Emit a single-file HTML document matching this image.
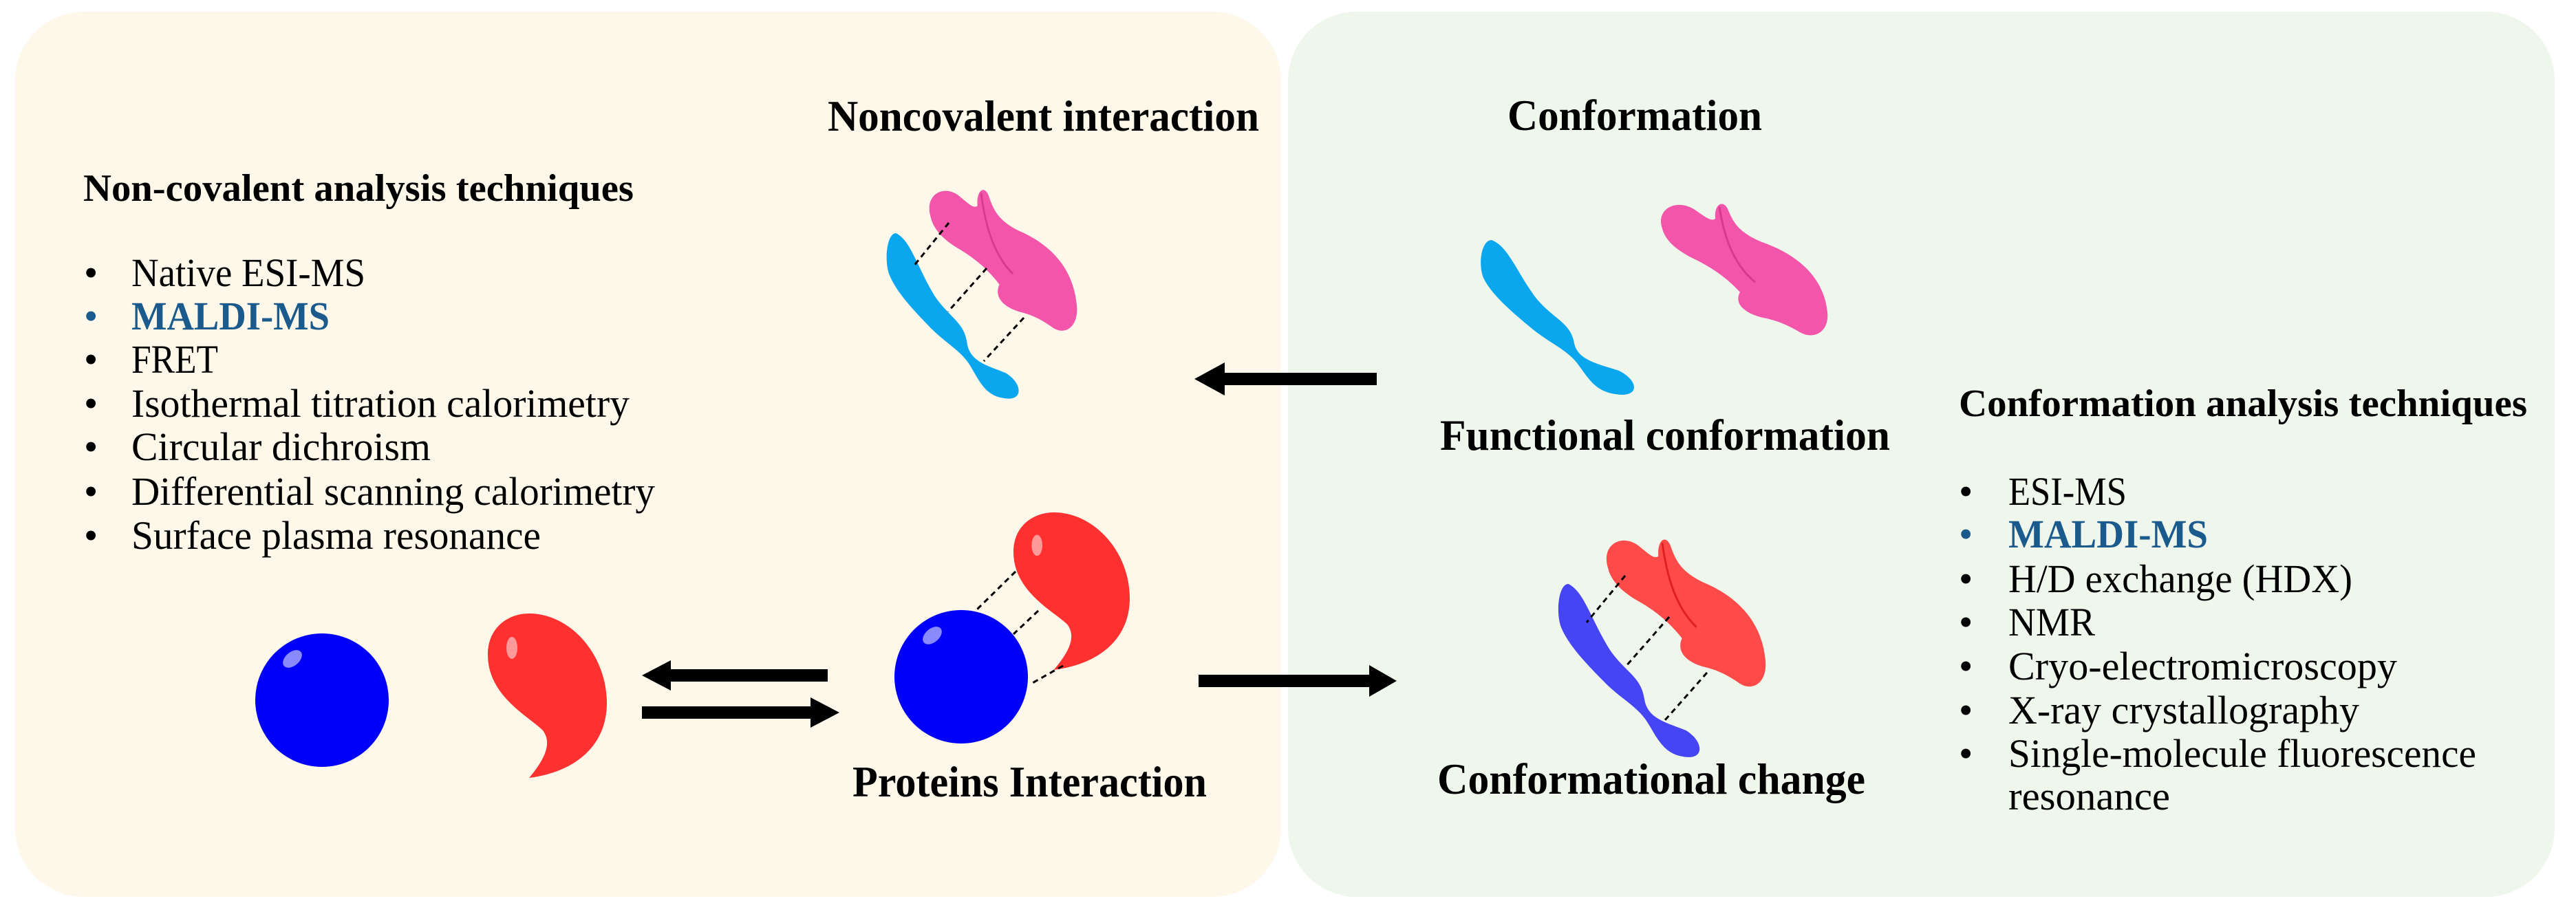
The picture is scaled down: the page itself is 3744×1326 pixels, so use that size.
<!DOCTYPE html>
<html><head><meta charset="utf-8"><style>html,body{margin:0;padding:0;background:#fff}svg{display:block}</style></head>
<body>
<svg width="3744" height="1326" viewBox="0 0 3744 1326" xmlns="http://www.w3.org/2000/svg" font-family="'Liberation Serif', serif">
<defs>
<path id="cy" d="M20,0 C45,10 55,45 85,85 C110,115 135,120 140,150 C145,175 175,180 205,190 C235,205 235,230 200,224 C170,220 160,200 145,180 C130,160 105,150 80,130 C50,105 20,80 8,55 C0,35 5,0 20,0 Z"/>
<path id="pk" d="M5,45 C-5,15 25,0 50,15 C65,25 75,35 82,30 C80,10 92,0 100,15 C108,35 115,50 150,65 C205,85 240,120 245,170 C248,200 225,212 205,200 C185,188 170,182 150,178 C120,170 110,155 118,140 C100,120 80,105 55,92 C30,80 10,65 5,45 Z"/>
<path id="pkl" d="M88,12 C95,60 110,100 140,125" fill="none" stroke-width="3"/>
<path id="dr" d="M60,0 C120,0 173,60 173,130 C173,190 130,230 60,239 C80,215 95,190 80,170 C60,150 0,120 0,60 C0,20 30,0 60,0 Z"/>
</defs>
<rect x="22" y="17" width="1840" height="1287" rx="100" fill="#fdf8e9"/>
<rect x="1872" y="17" width="1841" height="1287" rx="100" fill="#eff6ec"/>

<g font-weight="bold" fill="#000">
<text x="1203" y="190" font-size="64" textLength="627" lengthAdjust="spacingAndGlyphs">Noncovalent interaction</text>
<text x="121" y="292" font-size="56" textLength="800" lengthAdjust="spacingAndGlyphs">Non-covalent analysis techniques</text>
<text x="2191" y="189" font-size="64" textLength="370" lengthAdjust="spacingAndGlyphs">Conformation</text>
<text x="2093" y="654" font-size="64" textLength="654" lengthAdjust="spacingAndGlyphs">Functional conformation</text>
<text x="2847" y="605" font-size="56" textLength="826" lengthAdjust="spacingAndGlyphs">Conformation analysis techniques</text>
<text x="1239" y="1158" font-size="64" textLength="515" lengthAdjust="spacingAndGlyphs">Proteins Interaction</text>
<text x="2089" y="1154" font-size="64" textLength="622" lengthAdjust="spacingAndGlyphs">Conformational change</text>
</g>

<g font-size="58" fill="#000">
<text x="122" y="416">•</text><text x="191" y="416" textLength="340" lengthAdjust="spacingAndGlyphs">Native ESI-MS</text>
<text x="122" y="479" fill="#1b5a8c">•</text><text x="191" y="479" fill="#1b5a8c" font-weight="bold" textLength="288" lengthAdjust="spacingAndGlyphs">MALDI-MS</text>
<text x="122" y="542">•</text><text x="191" y="542" textLength="126" lengthAdjust="spacingAndGlyphs">FRET</text>
<text x="122" y="606">•</text><text x="191" y="606" textLength="724" lengthAdjust="spacingAndGlyphs">Isothermal titration calorimetry</text>
<text x="122" y="669">•</text><text x="191" y="669" textLength="435" lengthAdjust="spacingAndGlyphs">Circular dichroism</text>
<text x="122" y="734">•</text><text x="191" y="734" textLength="761" lengthAdjust="spacingAndGlyphs">Differential scanning calorimetry</text>
<text x="122" y="798">•</text><text x="191" y="798" textLength="595" lengthAdjust="spacingAndGlyphs">Surface plasma resonance</text>

<text x="2847" y="734">•</text><text x="2919" y="734" textLength="172" lengthAdjust="spacingAndGlyphs">ESI-MS</text>
<text x="2847" y="796" fill="#1b5a8c">•</text><text x="2919" y="796" fill="#1b5a8c" font-weight="bold" textLength="290" lengthAdjust="spacingAndGlyphs">MALDI-MS</text>
<text x="2847" y="861">•</text><text x="2919" y="861" textLength="500" lengthAdjust="spacingAndGlyphs">H/D exchange (HDX)</text>
<text x="2847" y="924">•</text><text x="2919" y="924" textLength="126" lengthAdjust="spacingAndGlyphs">NMR</text>
<text x="2847" y="988">•</text><text x="2919" y="988" textLength="565" lengthAdjust="spacingAndGlyphs">Cryo-electromicroscopy</text>
<text x="2847" y="1052">•</text><text x="2919" y="1052" textLength="510" lengthAdjust="spacingAndGlyphs">X-ray crystallography</text>
<text x="2847" y="1115">•</text><text x="2919" y="1115" textLength="680" lengthAdjust="spacingAndGlyphs">Single-molecule fluorescence</text>
<text x="2919" y="1177" textLength="235" lengthAdjust="spacingAndGlyphs">resonance</text>
</g>

<!-- arrows -->
<g fill="#000">
<polygon points="1736,551 1780,527 1780,542 2001,542 2001,560 1780,560 1780,575"/>
<polygon points="933,982 975,960 975,973 1203,973 1203,991 975,991 975,1004"/>
<polygon points="1220,1036 1178,1014 1178,1027 933,1027 933,1045 1178,1045 1178,1058"/>
<polygon points="2030,990 1990,967 1990,981 1742,981 1742,999 1990,999 1990,1013"/>
</g>

<!-- top complex -->
<g transform="translate(1348,268) scale(0.886,1.04)"><use href="#pk" fill="#f255aa"/><use href="#pkl" stroke="#d63a8e"/></g>
<g transform="translate(1285,339) scale(0.862,1.07)"><use href="#cy" fill="#0aa6ee"/></g>
<g stroke="#000" stroke-width="3" stroke-dasharray="8,6">
<line x1="1379" y1="324" x2="1327" y2="388"/><line x1="1434" y1="390" x2="1378" y2="453"/><line x1="1488" y1="462" x2="1430" y2="525"/>
</g>

<!-- single conformations -->
<g transform="translate(2148,349)"><use href="#cy" fill="#0aa6ee"/></g>
<g transform="translate(2411,289) scale(1,0.97)"><use href="#pk" fill="#f255aa"/><use href="#pkl" stroke="#d63a8e"/></g>

<!-- conformational change -->
<g transform="translate(2332,776) scale(0.955,1.086)"><use href="#pk" fill="#ff4a4a"/><use href="#pkl" stroke="#e02020"/></g>
<g transform="translate(2261,849) scale(0.922,1.12)"><use href="#cy" fill="#4545f5"/></g>
<g stroke="#000" stroke-width="3" stroke-dasharray="8,6">
<line x1="2362" y1="837" x2="2306" y2="905"/><line x1="2426" y1="897" x2="2362" y2="970"/><line x1="2481" y1="978" x2="2420" y2="1047"/>
</g>

<!-- proteins -->
<circle cx="468" cy="1018" r="97" fill="#0000fa"/>
<ellipse cx="425" cy="958" rx="16" ry="10" transform="rotate(-40 425 958)" fill="#8a8aff"/>
<g transform="translate(709,892)"><use href="#dr" fill="#ff3030"/><ellipse cx="35" cy="50" rx="8" ry="16" fill="#ff9a9a"/></g>

<g transform="translate(1473,745) scale(0.977,0.958)"><use href="#dr" fill="#ff3030"/><ellipse cx="35" cy="50" rx="8" ry="16" fill="#ff9a9a"/></g>
<circle cx="1397" cy="984" r="97" fill="#0000fa"/>
<ellipse cx="1355" cy="924" rx="16" ry="10" transform="rotate(-40 1355 924)" fill="#8a8aff"/>
<g stroke="#000" stroke-width="3" stroke-dasharray="8,6">
<line x1="1476" y1="831" x2="1418" y2="888"/><line x1="1509" y1="888" x2="1473" y2="922"/><line x1="1545" y1="968" x2="1497" y2="995"/>
</g>
</svg>
</body></html>
